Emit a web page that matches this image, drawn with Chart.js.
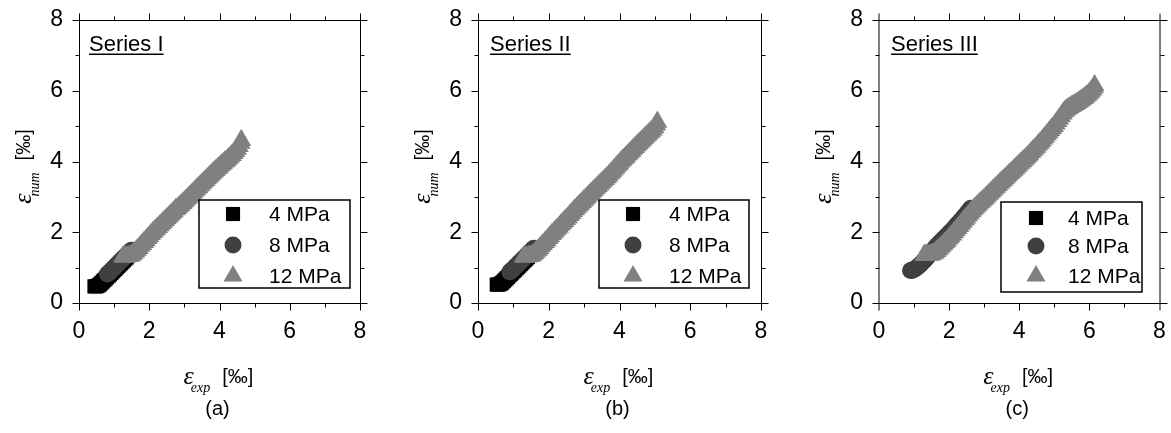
<!DOCTYPE html>
<html>
<head>
<meta charset="utf-8">
<script src="https://cdn.jsdelivr.net/npm/chart.js@4.4.0/dist/chart.umd.min.js"></script>
<style>
  html, body { margin: 0; padding: 0; background: #fff; overflow: hidden; }
  #wrap { position: relative; width: 1171px; height: 433px; }
  canvas { position: absolute; top: 0; }
</style>
</head>
<body>
<div id="wrap">
  <canvas id="pa" width="390" height="433" style="left:0px"></canvas>
  <canvas id="pb" width="390" height="433" style="left:390px"></canvas>
  <canvas id="pc" width="391" height="433" style="left:780px"></canvas>
</div>
<script>
// ---- axis ticks, legend entries and captions ----
const tickValues = [0, 2, 4, 6, 8];
const minorTickValues = [1, 3, 5, 7];
const legendLabels = ['4 MPa', '8 MPa', '12 MPa'];
const seriesTitles = ['Series I', 'Series II', 'Series III'];
const captions = ['(a)', '(b)', '(c)'];

// ---- Series I : measured (exp) vs computed (num) strain, per mille ----
const a4x  = [0.44, 0.48, 0.52, 0.56, 0.60, 0.64, 0.68, 0.72, 0.76, 0.80, 0.84, 0.88, 0.92, 0.96, 1.00, 1.04, 1.08, 1.12, 1.16, 1.20, 1.24, 1.28, 1.32, 1.36];
const a4y  = [0.47, 0.47, 0.48, 0.50, 0.53, 0.57, 0.61, 0.65, 0.69, 0.73, 0.77, 0.81, 0.85, 0.89, 0.93, 0.97, 1.01, 1.05, 1.09, 1.13, 1.17, 1.21, 1.25, 1.29];
const a8x  = [0.81, 0.85, 0.89, 0.93, 0.97, 1.01, 1.05, 1.09, 1.13, 1.17, 1.21, 1.25, 1.29, 1.33, 1.37, 1.41, 1.45, 1.49];
const a8y  = [0.82, 0.85, 0.89, 0.93, 0.97, 1.01, 1.05, 1.09, 1.13, 1.17, 1.21, 1.25, 1.29, 1.33, 1.37, 1.41, 1.45, 1.49];
const a12x = [1.25, 1.30, 1.35, 1.40, 1.45, 1.50, 1.55, 1.60, 1.65, 1.70, 1.75, 1.80, 1.85, 1.90, 1.95, 2.00, 2.05, 2.10, 2.15, 2.20,
              2.25, 2.30, 2.35, 2.40, 2.45, 2.50, 2.55, 2.60, 2.65, 2.70, 2.75, 2.80, 2.85, 2.90, 2.95, 3.00, 3.05, 3.10, 3.15, 3.20,
              3.25, 3.30, 3.35, 3.40, 3.45, 3.50, 3.55, 3.60, 3.65, 3.70, 3.75, 3.80, 3.85, 3.90, 3.95, 4.00, 4.05, 4.10, 4.15, 4.20,
              4.25, 4.30, 4.35, 4.40, 4.45, 4.50, 4.55, 4.60, 4.62];
const a12y = [1.31, 1.31, 1.31, 1.32, 1.33, 1.36, 1.40, 1.45, 1.50, 1.55, 1.61, 1.66, 1.72, 1.77, 1.83, 1.88, 1.94, 1.99, 2.04, 2.09,
              2.14, 2.19, 2.24, 2.29, 2.34, 2.39, 2.44, 2.49, 2.54, 2.59, 2.64, 2.68, 2.73, 2.77, 2.82, 2.87, 2.92, 2.97, 3.02, 3.07,
              3.12, 3.17, 3.22, 3.27, 3.32, 3.37, 3.42, 3.47, 3.52, 3.57, 3.62, 3.67, 3.72, 3.76, 3.81, 3.85, 3.90, 3.94, 3.99, 4.03,
              4.08, 4.13, 4.18, 4.23, 4.29, 4.35, 4.43, 4.52, 4.60];

// ---- Series II ----
const b4x  = [0.53, 0.57, 0.61, 0.65, 0.69, 0.73, 0.77, 0.81, 0.85, 0.89, 0.93, 0.97, 1.01, 1.05, 1.09, 1.13, 1.17, 1.21, 1.25, 1.29, 1.33, 1.37, 1.41];
const b4y  = [0.52, 0.52, 0.53, 0.55, 0.58, 0.62, 0.66, 0.70, 0.74, 0.78, 0.82, 0.86, 0.90, 0.94, 0.98, 1.02, 1.06, 1.10, 1.14, 1.18, 1.22, 1.26, 1.30];
const b8x  = [0.90, 0.94, 0.98, 1.02, 1.06, 1.10, 1.14, 1.18, 1.22, 1.26, 1.30, 1.34, 1.38, 1.42, 1.46, 1.50, 1.54, 1.58];
const b8y  = [0.88, 0.91, 0.95, 0.99, 1.03, 1.07, 1.11, 1.15, 1.19, 1.23, 1.27, 1.31, 1.35, 1.39, 1.43, 1.47, 1.51, 1.55];
const b12x = [1.29, 1.34, 1.39, 1.44, 1.49, 1.54, 1.59, 1.64, 1.69, 1.74, 1.79, 1.84, 1.89, 1.94, 1.99, 2.04, 2.09, 2.14, 2.19, 2.24,
              2.29, 2.34, 2.39, 2.44, 2.49, 2.54, 2.59, 2.64, 2.69, 2.74, 2.79, 2.84, 2.89, 2.94, 2.99, 3.04, 3.09, 3.14, 3.19, 3.24,
              3.29, 3.34, 3.39, 3.44, 3.49, 3.54, 3.59, 3.64, 3.69, 3.74, 3.79, 3.84, 3.89, 3.94, 3.99, 4.04, 4.09, 4.14, 4.19, 4.24,
              4.29, 4.34, 4.39, 4.44, 4.49, 4.54, 4.59, 4.64, 4.69, 4.74, 4.79, 4.84, 4.89, 4.94, 4.99, 5.04, 5.07];
const b12y = [1.31, 1.31, 1.31, 1.32, 1.33, 1.36, 1.40, 1.45, 1.50, 1.55, 1.61, 1.66, 1.72, 1.77, 1.83, 1.88, 1.94, 1.99, 2.05, 2.10,
              2.15, 2.21, 2.26, 2.31, 2.37, 2.42, 2.48, 2.53, 2.59, 2.64, 2.69, 2.74, 2.79, 2.85, 2.90, 2.95, 3.00, 3.05, 3.10, 3.15,
              3.20, 3.25, 3.30, 3.35, 3.40, 3.45, 3.50, 3.55, 3.60, 3.66, 3.71, 3.77, 3.82, 3.88, 3.93, 3.99, 4.04, 4.09, 4.14, 4.20,
              4.25, 4.30, 4.35, 4.40, 4.45, 4.50, 4.55, 4.60, 4.65, 4.70, 4.75, 4.80, 4.85, 4.90, 4.96, 5.04, 5.12];

// ---- Series III ----
const c4x  = [];
const c4y  = [];
const c8x  = [0.90, 0.94, 0.98, 1.02, 1.06, 1.10, 1.14, 1.18, 1.22, 1.26, 1.30, 1.34, 1.38, 1.42, 1.46, 1.50, 1.54, 1.58, 1.62, 1.66, 1.70, 1.74,
              1.78, 1.82, 1.86, 1.90, 1.94, 1.98, 2.02, 2.06, 2.10, 2.14, 2.18, 2.22, 2.26, 2.30, 2.34, 2.38, 2.42, 2.46, 2.50, 2.54, 2.58, 2.62];
const c8y  = [0.92, 0.92, 0.94, 0.96, 0.99, 1.02, 1.05, 1.09, 1.13, 1.17, 1.21, 1.26, 1.30, 1.35, 1.40, 1.45, 1.49, 1.54, 1.58, 1.63, 1.67, 1.71,
              1.75, 1.79, 1.83, 1.87, 1.91, 1.95, 1.99, 2.03, 2.07, 2.12, 2.16, 2.21, 2.25, 2.30, 2.34, 2.39, 2.43, 2.48, 2.53, 2.58, 2.63, 2.68];
const c12x = [1.29, 1.34, 1.39, 1.44, 1.49, 1.54, 1.59, 1.64, 1.69, 1.74, 1.79, 1.84, 1.89, 1.94, 1.99, 2.04, 2.09, 2.14, 2.19, 2.24,
              2.29, 2.34, 2.39, 2.44, 2.49, 2.54, 2.59, 2.64, 2.69, 2.74, 2.79, 2.84, 2.89, 2.94, 2.99, 3.04, 3.09, 3.14, 3.19, 3.24,
              3.29, 3.34, 3.39, 3.44, 3.49, 3.54, 3.59, 3.64, 3.69, 3.74, 3.79, 3.84, 3.89, 3.94, 3.99, 4.04, 4.09, 4.14, 4.19, 4.24,
              4.29, 4.34, 4.39, 4.44, 4.49, 4.54, 4.59, 4.64, 4.69, 4.74, 4.79, 4.84, 4.89, 4.94, 4.99, 5.04, 5.09, 5.14, 5.19, 5.24,
              5.29, 5.34, 5.39, 5.44, 5.49, 5.54, 5.59, 5.64, 5.69, 5.74, 5.79, 5.84, 5.89, 5.94, 5.99, 6.04, 6.09, 6.13, 6.15];
const c12y = [1.36, 1.36, 1.36, 1.36, 1.37, 1.39, 1.42, 1.46, 1.51, 1.56, 1.61, 1.66, 1.71, 1.76, 1.82, 1.87, 1.93, 1.99, 2.05, 2.11,
              2.17, 2.23, 2.29, 2.35, 2.41, 2.47, 2.53, 2.59, 2.64, 2.69, 2.74, 2.79, 2.84, 2.88, 2.93, 2.98, 3.03, 3.08, 3.13, 3.18,
              3.23, 3.28, 3.33, 3.38, 3.43, 3.47, 3.52, 3.57, 3.62, 3.67, 3.71, 3.76, 3.81, 3.86, 3.91, 3.96, 4.00, 4.05, 4.10, 4.15,
              4.20, 4.26, 4.31, 4.36, 4.41, 4.47, 4.52, 4.58, 4.64, 4.70, 4.76, 4.82, 4.88, 4.94, 5.00, 5.07, 5.14, 5.21, 5.28, 5.35,
              5.41, 5.46, 5.50, 5.53, 5.56, 5.59, 5.62, 5.65, 5.68, 5.72, 5.75, 5.79, 5.83, 5.87, 5.92, 5.97, 6.03, 6.09, 6.15];

// ---- styling ----
const FONT_SANS = "'Liberation Sans', Arial, sans-serif";
const FONT_SERIF = "'Liberation Serif', 'Times New Roman', serif";
const markerStyles = [
  { color: '#000000', pointStyle: 'rect', radius: 10, order: 2 },
  { color: '#404040', pointStyle: 'circle', radius: 8.5, order: 1 },
  { color: '#808080', pointStyle: 'triangle', radius: 11.5, order: 0 }
];

Chart.defaults.font.family = FONT_SANS;
Chart.defaults.color = '#000';

function toPoints(xs, ys) { return xs.map((x, i) => ({ x: x, y: ys[i] })); }

function dataset(xs, ys, k) {
  const m = markerStyles[k];
  return {
    label: legendLabels[k],
    data: toPoints(xs, ys),
    order: m.order,
    pointStyle: m.pointStyle,
    pointRadius: m.radius,
    pointHoverRadius: m.radius,
    pointBackgroundColor: m.color,
    pointBorderColor: m.color,
    pointBorderWidth: 0,
    showLine: false,
    clip: false
  };
}

// Draws the frame, ticks on all four sides, legend, panel title, axis titles and caption.
function decorations(p) {
  return {
    id: 'decorations',
    afterDatasetsDraw(chart) {
      const ctx = chart.ctx;
      const a = chart.chartArea;
      const sx = chart.scales.x, sy = chart.scales.y;
      ctx.save();

      // frame (the vertical sides of the last panel sit between pixels, giving soft grey edges)
      ctx.strokeStyle = '#000';
      ctx.lineWidth = 1;
      const b = Math.round(a.bottom) + 0.5, t = Math.round(a.top) + 0.5;
      const l = Math.round(a.left) + 0.5, r = Math.round(a.right) + 0.5;
      const vShift = p.softSides ? 0.5 : 0;
      ctx.beginPath();
      ctx.moveTo(l - 0.5, t); ctx.lineTo(r + 0.5, t);
      ctx.moveTo(l - 0.5, b); ctx.lineTo(r + 0.5, b);
      ctx.moveTo(l - vShift, t); ctx.lineTo(l - vShift, b);
      ctx.moveTo(r - vShift, t); ctx.lineTo(r - vShift, b);
      ctx.stroke();

      // outward ticks, major and minor
      ctx.beginPath();
      const ticks = tickValues.map(v => [v, 7]).concat(minorTickValues.map(v => [v, 4]));
      ticks.forEach(([v, len]) => {
        const px = Math.round(sx.getPixelForValue(v)) + 0.5 - (v === 0 || v === 8 ? vShift : 0);
        const py = Math.round(sy.getPixelForValue(v)) + 0.5;
        ctx.moveTo(px, b); ctx.lineTo(px, b + len);
        ctx.moveTo(px, t); ctx.lineTo(px, t - len);
        ctx.moveTo(l, py); ctx.lineTo(l - len, py);
        ctx.moveTo(r, py); ctx.lineTo(r + len, py);
      });
      ctx.stroke();

      // legend
      const lg = p.legend;
      const lx = Math.round(a.right - lg.fromRight), ly = Math.round(a.top + lg.top);
      ctx.fillStyle = '#fff';
      ctx.fillRect(lx, ly, lg.w, lg.h);
      ctx.lineWidth = 1.5;
      ctx.strokeStyle = '#000';
      ctx.strokeRect(lx, ly, lg.w, lg.h);
      ctx.font = '21px ' + FONT_SANS;
      ctx.textBaseline = 'middle';
      ctx.textAlign = 'left';
      legendLabels.forEach((lab, k) => {
        const m = markerStyles[k];
        const cy = ly + lg.rows[k];
        ctx.fillStyle = m.color;
        Chart.helpers.drawPoint(ctx, {
          pointStyle: m.pointStyle, radius: lg.radii[k], borderWidth: 0, rotation: 0
        }, lx + lg.markerX, cy);
        ctx.fillStyle = '#000';
        ctx.fillText(lab, lx + lg.textX, cy + 1);
      });

      // panel title with underline
      ctx.font = '22px ' + FONT_SANS;
      ctx.textBaseline = 'alphabetic';
      ctx.fillStyle = '#000';
      const tx = a.left + p.titleDx;
      ctx.fillText(p.title, tx, 51);
      const tw = ctx.measureText(p.title).width;
      ctx.fillRect(tx, 53.5, tw, 1.5);

      // axis titles
      const cxPlot = (a.left + a.right) / 2;
      epsTitle(ctx, 'exp', cxPlot - 1, 384);
      ctx.save();
      ctx.translate(a.left - 48, (a.top + a.bottom) / 2 + 5);
      ctx.rotate(-Math.PI / 2);
      epsTitle(ctx, 'num', 0, 0);
      ctx.restore();

      // caption
      ctx.font = '20px ' + FONT_SANS;
      ctx.textAlign = 'center';
      ctx.textBaseline = 'alphabetic';
      ctx.fillText(p.caption, cxPlot - 2, 415);

      ctx.restore();
    }
  };
}

// "ε_sub [‰]" centred on cx with its baseline at y
function epsTitle(ctx, sub, cx, y) {
  ctx.save();
  ctx.textAlign = 'left';
  ctx.textBaseline = 'alphabetic';
  ctx.fillStyle = '#000';
  const fE = 'italic 26px ' + FONT_SERIF;
  const fS = 'italic 14px ' + FONT_SERIF;
  const fU = '20px ' + FONT_SANS;
  ctx.font = fE; const wE = ctx.measureText('\u03B5').width;
  ctx.font = fS; const wS = ctx.measureText(sub).width;
  ctx.font = fU; const wU = ctx.measureText('[\u2030]').width;
  const subOff = wE - 3, gap = 12;
  const total = subOff + wS + gap + wU;
  const x0 = cx - total / 2;
  ctx.font = fE; ctx.fillText('\u03B5', x0, y);
  ctx.font = fS; ctx.fillText(sub, x0 + subOff, y + 8);
  ctx.font = fU; ctx.fillText('[\u2030]', x0 + subOff + wS + gap, y - 1);
  ctx.restore();
}

function makePanel(id, p) {
  new Chart(document.getElementById(id), {
    type: 'scatter',
    data: {
      datasets: [dataset(p.x4, p.y4, 0), dataset(p.x8, p.y8, 1), dataset(p.x12, p.y12, 2)]
    },
    options: {
      responsive: false,
      animation: false,
      events: [],
      layout: { padding: { top: 20, right: p.padRight, left: 0, bottom: 0 } },
      plugins: { legend: { display: false }, tooltip: { enabled: false } },
      scales: {
        x: {
          type: 'linear', position: 'bottom', min: 0, max: 8,
          afterFit(s) { s.height = 130; },
          afterBuildTicks(s) { s.ticks = tickValues.map(v => ({ value: v })); },
          // tick marks are drawn by the plugin; tickLength only spaces the labels
          grid: { display: false, drawTicks: true, tickLength: 15 },
          border: { display: false },
          ticks: { padding: 0, font: { size: 23 }, color: '#000', maxRotation: 0, autoSkip: false }
        },
        y: {
          type: 'linear', position: 'left', min: 0, max: 8,
          afterFit(s) { s.width = p.left; },
          afterBuildTicks(s) { s.ticks = tickValues.map(v => ({ value: v })); },
          grid: { display: false, drawTicks: true, tickLength: 16 },
          border: { display: false },
          ticks: { padding: 0, font: { size: 23 }, color: '#000', autoSkip: false }
        }
      }
    },
    plugins: [decorations(p)]
  });
}

makePanel('pa', {
  x4: a4x, y4: a4y, x8: a8x, y8: a8y, x12: a12x, y12: a12y,
  left: 79, padRight: 30, title: seriesTitles[0], titleDx: 10, caption: captions[0], softSides: false,
  legend: { fromRight: 161, top: 180, w: 151, h: 88, markerX: 34, textX: 70, rows: [14, 45, 76], radii: [10, 8.5, 11] }
});
makePanel('pb', {
  x4: b4x, y4: b4y, x8: b8x, y8: b8y, x12: b12x, y12: b12y,
  left: 88, padRight: 19, title: seriesTitles[1], titleDx: 12, caption: captions[1], softSides: false,
  legend: { fromRight: 162, top: 180, w: 150, h: 88, markerX: 34, textX: 70, rows: [14, 45, 76], radii: [10, 8.5, 11] }
});
makePanel('pc', {
  x4: c4x, y4: c4y, x8: c8x, y8: c8y, x12: c12x, y12: c12y,
  left: 99, padRight: 10, title: seriesTitles[2], titleDx: 12, caption: captions[2], softSides: true,
  legend: { fromRight: 159, top: 182, w: 141, h: 90, markerX: 35, textX: 67, rows: [16, 44, 74], radii: [10, 8.5, 11] }
});
</script>
</body>
</html>
